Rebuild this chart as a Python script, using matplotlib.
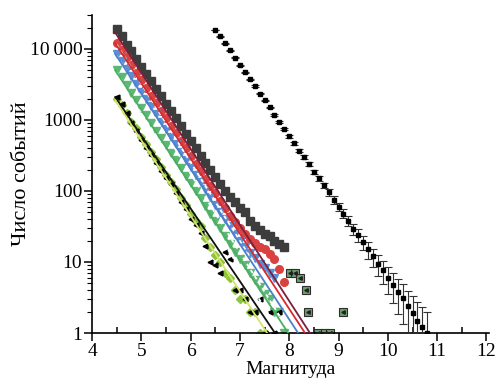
import numpy as np
import matplotlib
matplotlib.use("Agg")
import matplotlib.pyplot as plt
from matplotlib.ticker import LogLocator, NullFormatter, MultipleLocator

plt.rcParams['font.family'] = ['Liberation Serif', 'DejaVu Serif']

# magnitude bins (0.1 step)
mag_main = [4.5, 4.6, 4.7, 4.8, 4.9, 5.0, 5.1, 5.2, 5.3, 5.4, 5.5, 5.6, 5.7, 5.8,
            5.9, 6.0, 6.1, 6.2, 6.3, 6.4, 6.5, 6.6, 6.7, 6.8, 6.9, 7.0, 7.1, 7.2,
            7.3, 7.4, 7.5, 7.6, 7.7, 7.8, 7.9]

# grey squares
n_grey = [19000, 15000, 11500, 9300, 7200, 5600, 4500, 3500, 2750, 2150, 1700, 1320,
          1050, 810, 640, 500, 400, 315, 250, 200, 158, 126, 100, 83, 71, 58, 50, 38,
          32, 28, 25, 23, 20, 18, 16.5]
# red circles
n_red = [12000, 9500, 7600, 5900, 4600, 3600, 2800, 2200, 1740, 1350, 1050, 830, 650,
         500, 400, 310, 240, 190, 148, 117, 93, 72, 57, 45, 36, 30, 25, 21, 18.5, 16.5,
         15, 13, 11, 8, 5.2]
# blue triangles
n_blue = [8500, 6800, 5250, 4150, 3250, 2500, 2000, 1550, 1200, 950, 740, 575, 455, 355,
          275, 220, 170, 132, 105, 81, 63, 50, 40, 32, 25, 20, 16.5, 13.5, 11.2, 9.3,
          8.3, 7, 6]
# green triangles
n_green = [5000, 4000, 3100, 2400, 1900, 1480, 1170, 910, 710, 560, 440, 340, 270, 210,
           165, 130, 100, 79, 62, 48, 38, 30, 23, 18, 14, 11, 9, 7, 5.5, 4.5, 3.5, 3, 2,
           2, 1]
# light green diamonds
n_lgreen = [2000, 1600, 1250, 950, 760, 575, 455, 350, 280, 220, 170, 132, 105, 80, 63,
            48, 38, 32, 22, 16, 12.5, 10, 7, 6, 4, 3, 3, 2, 2, 1, 1]
# small black triangles
mag_black = [4.5, 4.6, 4.7, 4.8, 4.9, 5.0, 5.1, 5.2, 5.3, 5.4, 5.5, 5.6, 5.7, 5.8, 5.9,
             6.0, 6.1, 6.2, 6.3, 6.4, 6.5, 6.6, 6.7, 6.8, 6.9, 7.0, 7.1, 7.2, 7.3, 7.4,
             7.5, 7.6, 7.7, 7.8]
n_black = [2100, 1650, 1250, 900, 700, 520, 400, 320, 250, 190, 150, 125, 95, 70, 55,
           40, 33, 26, 17, 10, 9, 7, 14, 11, 4, 4, 3, 2, 2, 3, 1, 2, 1, 2]
# tail points (green squares)
mag_tail = [8.02, 8.12, 8.22, 8.34, 8.38, 8.58, 8.72, 8.83, 9.1]
n_tail = [7, 7, 6, 4, 2, 1, 1, 1, 2]

# right-hand catalogue with error bars
mag_cat = [6.5, 6.6, 6.7, 6.8, 6.9, 7.0, 7.1, 7.2, 7.3, 7.4, 7.5, 7.6, 7.7, 7.8, 7.9,
           8.0, 8.1, 8.2, 8.3, 8.4, 8.5, 8.6, 8.7, 8.8, 8.9, 9.0, 9.1, 9.2, 9.3, 9.4,
           9.5, 9.6, 9.7, 9.8, 9.9, 10.0, 10.1, 10.2, 10.3, 10.4, 10.5, 10.6, 10.7, 10.8]
n_cat = [18500, 15000, 12000, 9500, 7500, 5900, 4700, 3750, 3000, 2350, 1880, 1500, 1180,
         940, 740, 590, 470, 370, 300, 240, 185, 150, 120, 96, 75, 60, 48, 38, 29, 24,
         19, 15, 12, 9.4, 7.6, 6.0, 4.8, 3.8, 3.1, 2.4, 1.9, 1.5, 1.2, 1.0]

# fitted lines: (start magnitude, end magnitude) and (start count, end count)
fit_mag = [[4.47, 8.42], [4.47, 8.32], [4.47, 8.18], [4.47, 7.98], [4.47, 7.71], [4.47, 7.55]]
fit_n = [[17000, 1], [12000, 1], [8500, 1], [5000, 1], [2100, 1], [1900, 1]]
fit_colors = ['#7a1f3d', '#d62b2e', '#4f7fca', '#4cae62', '#111111', '#d6e36c']

# white dashed lines through marker clouds
dash_mag = [[4.5, 8.1], [4.5, 7.95], [4.5, 7.75]]
dash_n = [[11500, 1.2], [8000, 1.2], [4700, 1.2]]

fig = plt.figure(figsize=(5.03, 3.85), dpi=100)
ax = fig.add_axes([0.183, 0.135, 0.789, 0.826])

ax.plot(mag_main, n_grey, 's', color='#3d3d3d', ms=6.3, mec='#3d3d3d', zorder=2)
ax.plot(mag_main, n_red, 'o', color='#d9423f', ms=5.5, mec='#d9423f', zorder=2)
ax.plot(mag_main[:len(n_blue)], n_blue, 'v', color='#5a8fd8', ms=6, mec='#5a8fd8', zorder=2)
ax.plot(mag_main, n_green, 'v', color='#5cb874', ms=6, mec='#5cb874', zorder=2)
ax.plot(mag_main[:len(n_lgreen)], n_lgreen, 'D', color='#8cc63e', ms=4.5, mec='#8cc63e', zorder=2)
ax.plot(mag_black, n_black, '<', color='black', ms=3.5, zorder=3)
ax.plot(mag_tail, n_tail, 's', color='#6f9f70', mec='#2e2e2e', ms=6, mew=0.8, zorder=2)
ax.plot(mag_tail, n_tail, '<', color='#222222', ms=2.5, zorder=3)

for xs, ys in zip(dash_mag, dash_n):
    ax.plot(xs, ys, color='white', lw=1.3, ls=(0, (2, 2)), zorder=3)
for xs, ys, c in zip(fit_mag, fit_n, fit_colors):
    ax.plot(xs, ys, color=c, lw=1.3, zorder=4)

ax.errorbar(mag_cat, n_cat, yerr=np.sqrt(n_cat), fmt='s', color='black', ms=2.8,
            ecolor='#333333', elinewidth=0.8, capsize=3, capthick=0.8, zorder=5)

ax.set_yscale('log')
ax.set_xlim(4, 12.05)
ax.set_ylim(1, 30000)
ax.set_xticks([4, 5, 6, 7, 8, 9, 10, 11, 12])
ax.xaxis.set_minor_locator(MultipleLocator(0.5))
ax.set_yticks([1, 10, 100, 1000, 10000])
ax.set_yticklabels(['1', '10', '100', '1000', '10\u2009000'])
ax.yaxis.set_minor_locator(LogLocator(base=10, subs=np.arange(2, 10)))
ax.yaxis.set_minor_formatter(NullFormatter())

for side in ['top', 'right']:
    ax.spines[side].set_visible(False)
ax.spines['left'].set_linewidth(1.2)
ax.spines['bottom'].set_linewidth(1.2)
ax.tick_params(axis='both', which='major', labelsize=14, direction='out', length=6, width=1.1, pad=1)
ax.tick_params(axis='y', which='minor', direction='out', length=3.5, width=0.8)
ax.tick_params(axis='x', which='minor', direction='in', length=4, width=1.1)

ax.set_xlabel('Магнитуда', fontsize=14, labelpad=1)
ax.set_ylabel('Число событий', fontsize=16, labelpad=-1)

fig.savefig('out.png', dpi=100)
